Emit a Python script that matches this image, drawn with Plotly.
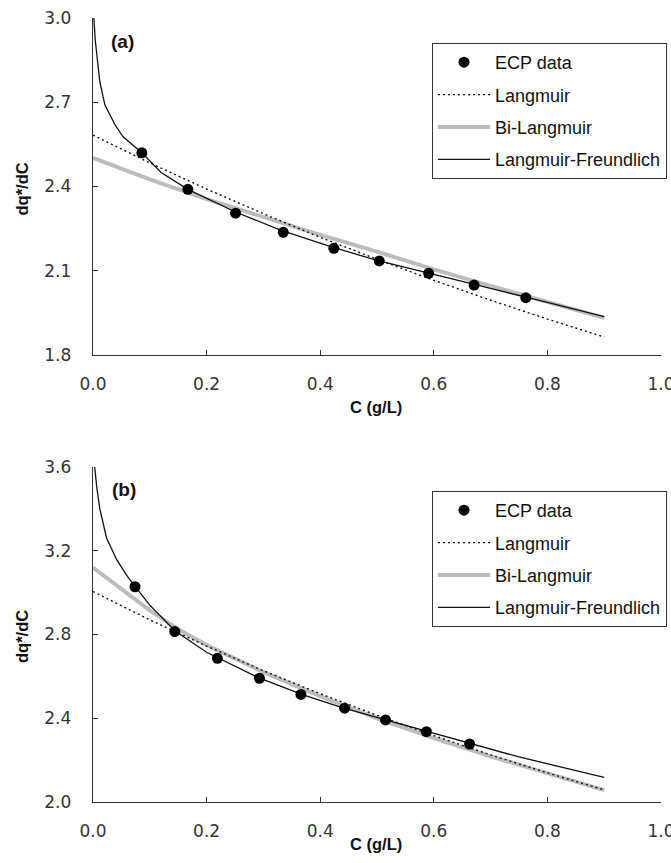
import plotly.graph_objects as go

W, H = 671, 863

# ---------------- Panel (a) data ----------------
ecp_c_a = [0.086, 0.167, 0.251, 0.335, 0.424, 0.504, 0.591, 0.671, 0.762]
ecp_y_a = [2.520, 2.390, 2.305, 2.237, 2.180, 2.135, 2.091, 2.049, 2.004]

lang_c_a = [0.0, 0.1, 0.2, 0.3, 0.4, 0.5, 0.6, 0.7, 0.8, 0.9]
lang_y_a = [2.583, 2.484, 2.391, 2.303, 2.219, 2.141, 2.066, 1.995, 1.928, 1.864]

bil_c_a = [0.0, 0.1, 0.2, 0.3, 0.4, 0.5, 0.6, 0.7, 0.8, 0.9]
bil_y_a = [2.502, 2.425, 2.355, 2.290, 2.228, 2.168, 2.105, 2.046, 1.989, 1.932]

lf_c_a = [0.0015, 0.004, 0.012, 0.021, 0.039, 0.053, 0.086, 0.12, 0.167, 0.25,
          0.33, 0.42, 0.5, 0.6, 0.7, 0.8, 0.9]
lf_y_a = [3.000, 2.920, 2.773, 2.690, 2.619, 2.577, 2.520, 2.450, 2.390, 2.310,
          2.245, 2.185, 2.137, 2.088, 2.037, 1.987, 1.937]

# ---------------- Panel (b) data ----------------
ecp_c_b = [0.074, 0.144, 0.219, 0.293, 0.366, 0.443, 0.515, 0.587, 0.663]
ecp_y_b = [3.028, 2.814, 2.686, 2.591, 2.514, 2.448, 2.392, 2.336, 2.277]

lang_c_b = [0.0, 0.1, 0.2, 0.3, 0.4, 0.5, 0.6, 0.7, 0.8, 0.9]
lang_y_b = [3.005, 2.870, 2.745, 2.627, 2.517, 2.414, 2.317, 2.225, 2.139, 2.058]

bil_c_b = [0.0, 0.05, 0.1, 0.15, 0.2, 0.3, 0.4, 0.5, 0.6, 0.7, 0.8, 0.9]
bil_y_b = [3.120, 3.015, 2.915, 2.825, 2.750, 2.620, 2.505, 2.400, 2.305, 2.218, 2.135, 2.057]

lf_c_b = [0.003, 0.0065, 0.012, 0.024, 0.042, 0.059, 0.074, 0.1, 0.144, 0.2,
          0.29, 0.37, 0.44, 0.52, 0.59, 0.66, 0.75, 0.9]
lf_y_b = [3.600, 3.506, 3.400, 3.260, 3.156, 3.084, 3.030, 2.940, 2.818, 2.715,
          2.595, 2.512, 2.450, 2.390, 2.335, 2.282, 2.215, 2.118]

x_ticks = [0.0, 0.2, 0.4, 0.6, 0.8, 1.0]
y_ticks_a = [1.8, 2.1, 2.4, 2.7, 3.0]
y_ticks_b = [2.0, 2.4, 2.8, 3.2, 3.6]

names = ["ECP data", "Langmuir", "Bi-Langmuir", "Langmuir-Freundlich"]

GRAY = "#bcbcbc"
AXC = "#333333"
TICKFONT = dict(family="DejaVu Sans", size=17, color="#333333")
LEGFONT = dict(family="Liberation Sans, Arial", size=18, color="#111111")

fig = go.Figure()

def add_panel(xa, ya, leg, ecp_c, ecp_y, lc, ly, bc, by, fc, fy):
    fig.add_trace(go.Scatter(x=bc, y=by, mode="lines", name=names[2],
                             line=dict(color=GRAY, width=4), xaxis=xa, yaxis=ya,
                             legend=leg, legendrank=3, legendgroup=leg + "c"))
    fig.add_trace(go.Scatter(x=lc, y=ly, mode="lines", name=names[1],
                             line=dict(color="#111111", width=1.4, dash="2px,3px"),
                             xaxis=xa, yaxis=ya, legend=leg, legendrank=2,
                             legendgroup=leg + "b"))
    fig.add_trace(go.Scatter(x=fc, y=fy, mode="lines", name=names[3],
                             line=dict(color="#111111", width=1.3), xaxis=xa, yaxis=ya,
                             legend=leg, legendrank=4, legendgroup=leg + "d"))
    fig.add_trace(go.Scatter(x=ecp_c, y=ecp_y, mode="markers", name=names[0],
                             marker=dict(color="#000000", size=11, symbol="circle"),
                             xaxis=xa, yaxis=ya, legend=leg, legendrank=1,
                             legendgroup=leg + "a"))

add_panel("x", "y", "legend", ecp_c_a, ecp_y_a, lang_c_a, lang_y_a, bil_c_a, bil_y_a, lf_c_a, lf_y_a)
add_panel("x2", "y2", "legend2", ecp_c_b, ecp_y_b, lang_c_b, lang_y_b, bil_c_b, bil_y_b, lf_c_b, lf_y_b)

xdom = [93 / W, 661 / W]
ydom_a = [1 - 355 / H, 1 - 18 / H]
ydom_b = [1 - 802 / H, 1 - 467 / H]

def xaxis_cfg(anchor):
    return dict(domain=xdom, anchor=anchor, range=[0, 1.0], tickvals=x_ticks,
                ticktext=[f"{v:.1f}" for v in x_ticks], showline=True, linecolor=AXC,
                linewidth=1.3, ticks="inside", ticklen=5, tickwidth=1.2, tickcolor=AXC,
                showgrid=False, zeroline=False, tickfont=TICKFONT, ticklabelstandoff=13,
                automargin=False, ticklabeloverflow="allow")

def yaxis_cfg(anchor, dom, rng, tv):
    return dict(domain=dom, anchor=anchor, range=rng, tickvals=tv,
                ticktext=[f"{v:.1f}" for v in tv], showline=True, linecolor=AXC,
                linewidth=1.3, ticks="inside", ticklen=5, tickwidth=1.2, tickcolor=AXC,
                showgrid=False, zeroline=False, tickfont=TICKFONT, ticklabelstandoff=17,
                automargin=False, ticklabeloverflow="allow")

legend_common = dict(xanchor="left", yanchor="top", bgcolor="white", bordercolor=AXC,
                     borderwidth=1, font=LEGFONT, itemwidth=52, tracegroupgap=6,
                     traceorder="grouped", itemclick=False)

fig.update_layout(
    template="none",
    width=W, height=H, margin=dict(l=0, r=0, t=0, b=0, autoexpand=False),
    paper_bgcolor="white", plot_bgcolor="white", showlegend=True,
    xaxis=xaxis_cfg("y"), yaxis=yaxis_cfg("x", ydom_a, [1.8, 3.0], y_ticks_a),
    xaxis2=xaxis_cfg("y2"), yaxis2=yaxis_cfg("x2", ydom_b, [2.0, 3.6], y_ticks_b),
    legend=dict(x=432 / W, y=1 - 43 / H, **legend_common),
    legend2=dict(x=432 / W, y=1 - 491 / H, **legend_common),
)

TITLEFONT = dict(family="Liberation Sans, Arial", size=16.5, color="#111111")
LABFONT = dict(family="Liberation Sans, Arial", size=19, color="#111111")
ann = [
    dict(text="<b>(a)</b>", x=122 / W, y=1 - 41 / H, font=LABFONT),
    dict(text="<b>(b)</b>", x=124.5 / W, y=1 - 490 / H, font=LABFONT),
    dict(text="<b>C (g/L)</b>", x=376 / W, y=1 - 406.5 / H, font=TITLEFONT),
    dict(text="<b>C (g/L)</b>", x=376 / W, y=1 - 844 / H, font=TITLEFONT),
    dict(text="<b>dq*/dC</b>", x=21.5 / W, y=1 - 189 / H, font=TITLEFONT, textangle=-90),
    dict(text="<b>dq*/dC</b>", x=21.5 / W, y=1 - 636.5 / H, font=TITLEFONT, textangle=-90),
]
for a in ann:
    fig.add_annotation(xref="paper", yref="paper", showarrow=False,
                       xanchor="center", yanchor="middle", **a)

fig.write_html("out.html",
               config={"displayModeBar": False, "staticPlot": True},
               post_script="document.body.style.margin='0px';"
                           "document.body.style.overflow='hidden';")
